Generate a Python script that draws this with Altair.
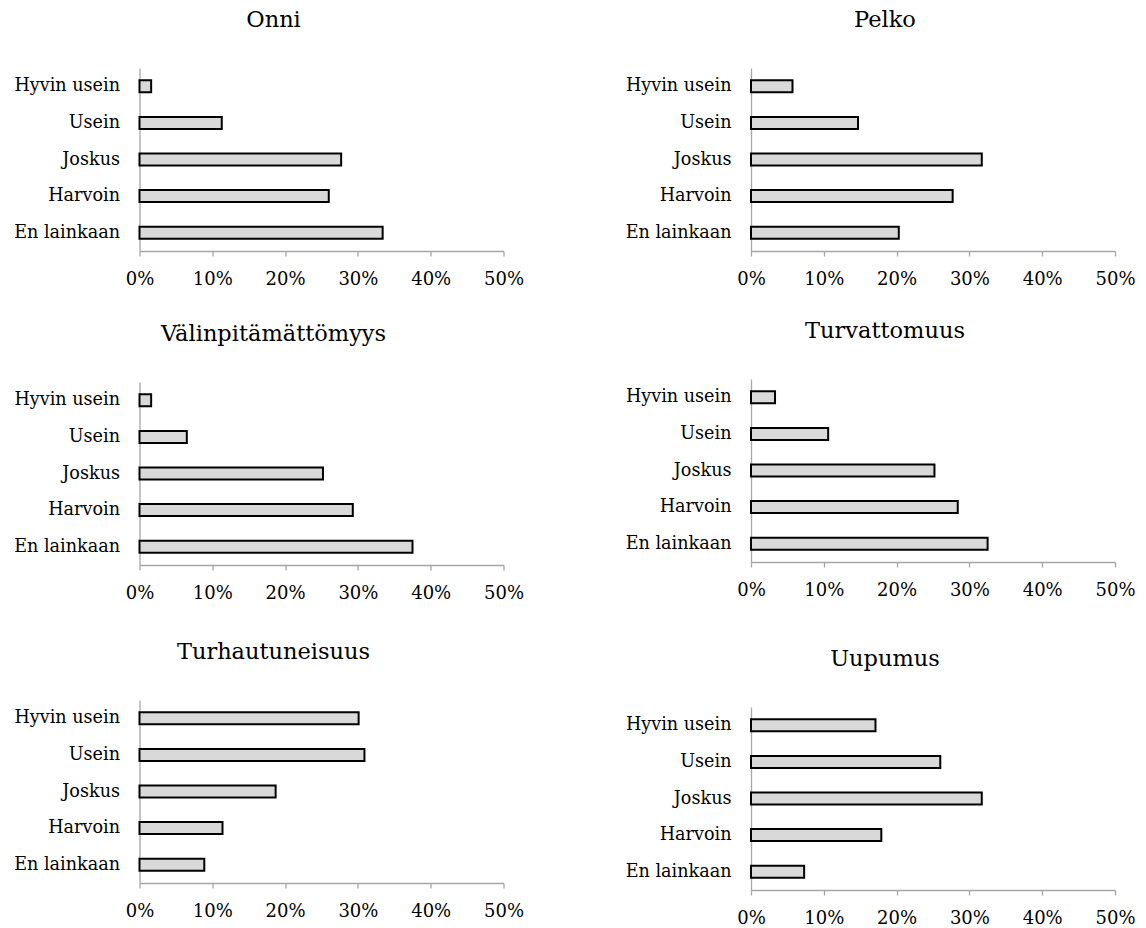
import altair as alt
import pandas as pd

categories = ["Hyvin usein", "Usein", "Joskus", "Harvoin", "En lainkaan"]
tick_values = [0, 0.1, 0.2, 0.3, 0.4, 0.5]

titles = ["Onni", "Pelko", "Välinpitämättömyys", "Turvattomuus", "Turhautuneisuus", "Uupumus"]
onni = [1.6, 11.3, 27.7, 26.0, 33.4]
pelko = [5.7, 14.7, 31.7, 27.7, 20.3]
valinpitamattomyys = [1.6, 6.5, 25.2, 29.3, 37.5]
turvattomuus = [3.3, 10.6, 25.2, 28.4, 32.5]
turhautuneisuus = [30.1, 30.9, 18.7, 11.4, 8.9]
uupumus = [17.1, 26.0, 31.7, 17.9, 7.3]

FONT = "DejaVu Serif"
AX = "#a6a6a6"


def panel(title, values, ext):
    df = pd.DataFrame({"cat": categories, "val": [v / 100 for v in values]})
    return (
        alt.Chart(
            df,
            title=alt.Title(
                title, font=FONT, fontSize=22.5, fontWeight="normal", color="#000",
                anchor="middle", frame="bounds", offset=37, dx=5,
            ),
        )
        .mark_bar(fill="#d9d9d9", stroke="#000", strokeWidth=2)
        .encode(
            x=alt.X(
                "val:Q",
                scale=alt.Scale(domain=[0, 0.5], nice=False, zero=True),
                axis=alt.Axis(
                    values=tick_values, format=".0%", title=None, grid=False,
                    domainColor=AX, tickColor=AX, domainWidth=1.3, tickWidth=1.3,
                    tickSize=5, labelPadding=14, labelFlush=False, labelFont=FONT,
                    labelFontSize=18, labelColor="#000",
                    minExtent=ext, maxExtent=ext,
                ),
            ),
            y=alt.Y(
                "cat:N", sort=categories,
                scale=alt.Scale(paddingInner=0.672, paddingOuter=0.336),
                axis=alt.Axis(
                    title=None, ticks=False, labelPadding=20, grid=False,
                    domainColor=AX, domainWidth=1.3, labelFont=FONT,
                    labelFontSize=17.6, labelColor="#000",
                    minExtent=126, maxExtent=126,
                ),
            ),
        )
        .properties(width=364, height=183)
    )


p1 = panel(titles[0], onni, 71)
p2 = panel(titles[1], pelko, 67.6)
p3 = panel(titles[2], valinpitamattomyys, 74.3)
p4 = panel(titles[3], turvattomuus, 84.3)
p5 = panel(titles[4], turhautuneisuus, 40)
p6 = panel(titles[5], uupumus, 40)

left = alt.vconcat(p1, p3, p5, spacing=0)
right = alt.vconcat(p2, p4, p6, spacing=0)

chart = (
    alt.hconcat(left, right, spacing=100.5)
    .properties(padding={"left": 13.5, "top": 8, "right": 5, "bottom": 5})
    .configure(background="white", view=alt.ViewConfig(stroke=None))
)

chart.save("out.html", embed_options={"renderer": "svg", "actions": False})
